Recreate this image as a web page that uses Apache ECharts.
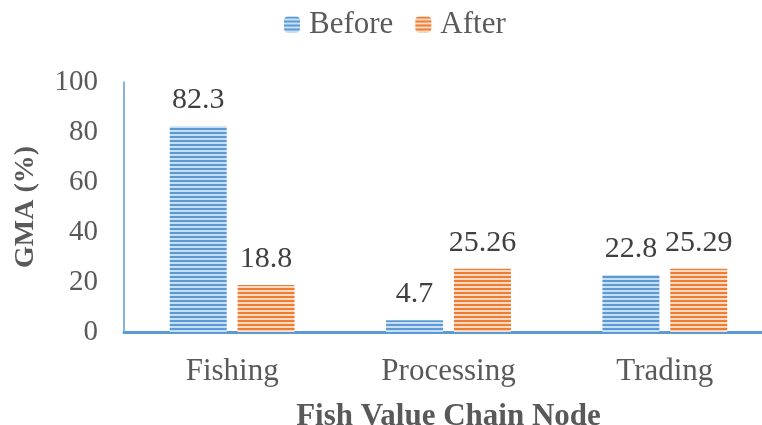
<!DOCTYPE html>
<html><head><meta charset="utf-8">
<script src="https://cdn.jsdelivr.net/npm/echarts@6/dist/echarts.min.js"></script>
<style>html,body{margin:0;padding:0;background:#fff}#c{width:762px;height:425px}</style>
</head><body><div id="c"></div>
<script>
const categories = ['Fishing', 'Processing', 'Trading'];
const beforeValues = [82.3, 4.7, 22.8];
const afterValues = [18.8, 25.26, 25.29];
const beforeLabels = ['82.3', '4.7', '22.8'];
const afterLabels = ['18.8', '25.26', '25.29'];
const yTicks = [0, 20, 40, 60, 80, 100];

function stripe(dark, light) {
  const c = document.createElement('canvas');
  c.width = 8; c.height = 4;
  const g = c.getContext('2d');
  g.fillStyle = light; g.fillRect(0, 0, 8, 4);
  g.fillStyle = dark; g.fillRect(0, 0, 8, 2);
  return { image: c, repeat: 'repeat' };
}
const FONT = '"Liberation Serif", "Times New Roman", serif';
const chart = echarts.init(document.getElementById('c'), null, { renderer: 'canvas' });
const mk = (name, vals, labs, dark, light) => ({
  name, type: 'bar',
  data: vals.map((v, i) => ({ value: v, label: { formatter: labs[i] } })),
  barWidth: 57,
  barGap: '19%',
  itemStyle: { color: stripe(dark, light) },
  label: { show: true, position: 'top', distance: 11, fontFamily: FONT, fontSize: 30, color: '#404040' }
});
chart.setOption({
  animation: false,
  legend: {
    top: 4, left: 279, itemWidth: 16, itemHeight: 16, itemGap: 22,
    textStyle: { fontFamily: FONT, fontSize: 31, color: '#595959', padding: [0, 0, 0, 4] },
    data: ['Before', 'After']
  },
  grid: { left: 124, top: 82, width: 649, bottom: 93, containLabel: false, outerBoundsMode: 'none' },
  xAxis: {
    type: 'category', data: categories,
    axisLine: { lineStyle: { color: '#5b9bd5', width: 3 } },
    axisTick: { show: false },
    axisLabel: { fontFamily: FONT, fontSize: 31, color: '#595959', margin: 24 },
    name: 'Fish Value Chain Node', nameLocation: 'middle', nameGap: 69,
    nameTextStyle: { fontFamily: FONT, fontSize: 31, fontWeight: 'bold', color: '#595959' }
  },
  yAxis: {
    type: 'value', min: yTicks[0], max: yTicks[yTicks.length - 1], interval: 20,
    axisLine: { show: true, lineStyle: { color: '#5b9bd5', width: 1.5 } },
    axisTick: { show: false },
    splitLine: { show: false },
    axisLabel: { fontFamily: FONT, fontSize: 29, color: '#595959', margin: 26 },
    name: 'GMA (%)', nameLocation: 'middle', nameGap: 84, nameRotate: 90,
    nameTextStyle: { fontFamily: FONT, fontSize: 28, fontWeight: 'bold', color: '#595959' }
  },
  series: [
    mk('Before', beforeValues, beforeLabels, '#5b9bd5', '#c9def2'),
    mk('After', afterValues, afterLabels, '#ed7d31', '#fbd9c4')
  ]
});
</script></body></html>
